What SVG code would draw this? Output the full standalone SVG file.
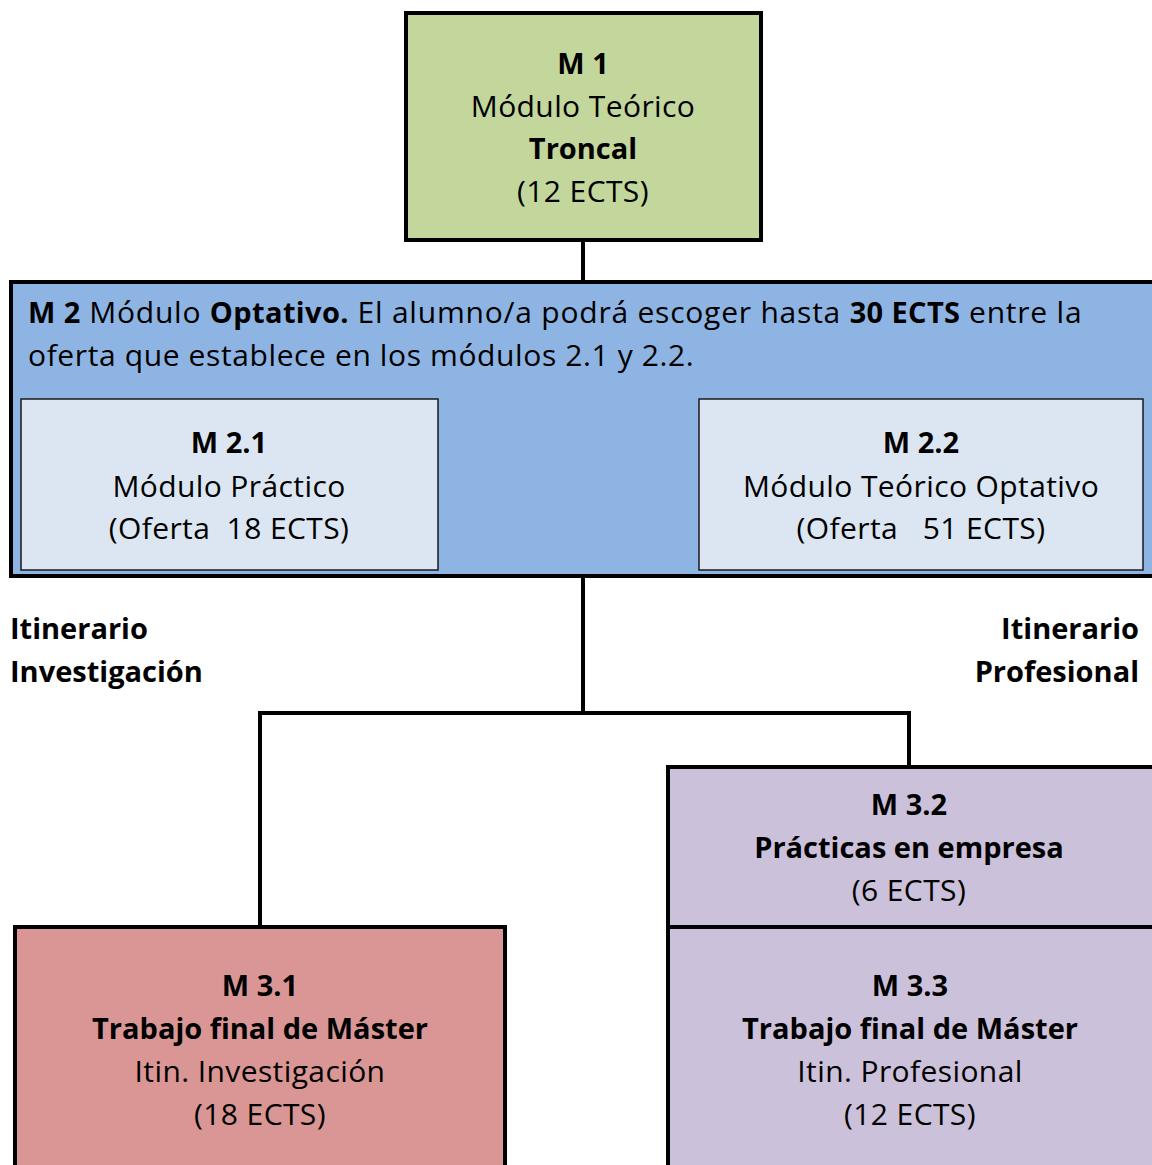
<svg xmlns="http://www.w3.org/2000/svg" width="1152" height="1165" viewBox="0 0 1152 1165">
<style>
text{font-family:"Open Sans","Noto Sans","Liberation Sans",sans-serif;font-size:30px;letter-spacing:0.4px;fill:#000;white-space:pre}
.c{text-anchor:middle}
.b{font-weight:bold;font-size:29px;letter-spacing:0}
.thick{stroke:#000;stroke-width:4}
.thin{stroke:#1a1a1a;stroke-width:1.5}
.line{stroke:#000;stroke-width:4;fill:none}
</style>
<rect width="1152" height="1165" fill="#fff"/>
<g id="connectors">
<line class="line" x1="583" y1="240" x2="583" y2="282"/>
<line class="line" x1="583" y1="577" x2="583" y2="713"/>
<polyline class="line" points="260,927 260,713 909,713 909,767"/>
</g>
<g id="m1">
<rect class="thick" x="406" y="13" width="355" height="227" fill="#c3d69b"/>
<text class="c b" x="583" y="74">M 1</text>
<text class="c" x="583" y="117">Módulo Teórico</text>
<text class="c b" x="583" y="159">Troncal</text>
<text class="c" x="583" y="202">(12 ECTS)</text>
</g>
<g id="m2">
<rect class="thick" x="11" y="282" width="1150" height="294" fill="#8eb4e3"/>
<text x="28" y="323" textLength="1054" lengthAdjust="spacing"><tspan class="b">M 2</tspan> Módulo <tspan class="b">Optativo.</tspan> El alumno/a podrá escoger hasta <tspan class="b">30 ECTS</tspan> entre la</text>
<text x="28" y="366" textLength="666" lengthAdjust="spacing">oferta que establece en los módulos 2.1 y 2.2.</text>
</g>
<g id="m2-1">
<rect class="thin" x="21" y="399" width="417" height="171" fill="#dce6f2"/>
<text class="c b" x="229" y="453">M 2.1</text>
<text class="c" x="229" y="497">Módulo Práctico</text>
<text class="c" x="229" y="539">(Oferta  18 ECTS)</text>
</g>
<g id="m2-2">
<rect class="thin" x="699" y="399" width="444" height="171" fill="#dce6f2"/>
<text class="c b" x="921" y="453">M 2.2</text>
<text class="c" x="921" y="497">Módulo Teórico Optativo</text>
<text class="c" x="921" y="539">(Oferta   51 ECTS)</text>
</g>
<g id="label-inv">
<text class="b" x="10" y="639">Itinerario</text>
<text class="b" x="10" y="682">Investigación</text>
</g>
<g id="label-prof">
<text class="b" x="1139" y="639" text-anchor="end">Itinerario</text>
<text class="b" x="1139" y="682" text-anchor="end">Profesional</text>
</g>
<g id="m3-1">
<rect class="thick" x="15" y="927" width="490" height="260" fill="#d99694"/>
<text class="c b" x="260" y="996">M 3.1</text>
<text class="c b" x="260" y="1039">Trabajo final de Máster</text>
<text class="c" x="260" y="1082">Itin. Investigación</text>
<text class="c" x="260" y="1125">(18 ECTS)</text>
</g>
<g id="m3-2">
<rect class="thick" x="668" y="767" width="500" height="160" fill="#ccc1da"/>
<text class="c b" x="909" y="815">M 3.2</text>
<text class="c b" x="909" y="858">Prácticas en empresa</text>
<text class="c" x="909" y="901">(6 ECTS)</text>
</g>
<g id="m3-3">
<rect class="thick" x="668" y="927" width="500" height="260" fill="#ccc1da"/>
<text class="c b" x="910" y="996">M 3.3</text>
<text class="c b" x="910" y="1039">Trabajo final de Máster</text>
<text class="c" x="910" y="1082">Itin. Profesional</text>
<text class="c" x="910" y="1125">(12 ECTS)</text>
</g>
</svg>
